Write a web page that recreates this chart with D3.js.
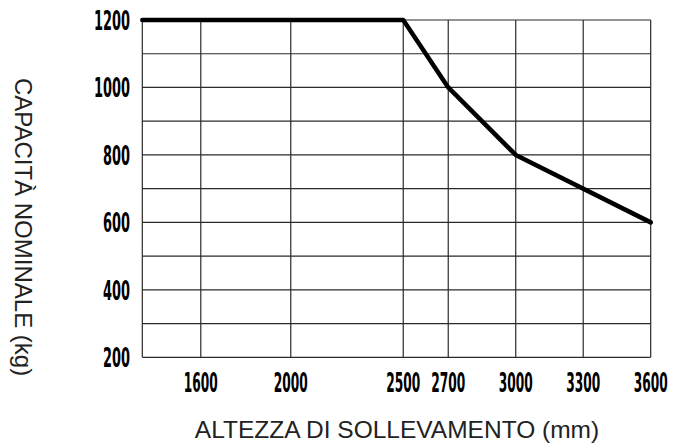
<!DOCTYPE html>
<html>
<head>
<meta charset="utf-8">
<script src="https://cdn.jsdelivr.net/npm/d3@7"></script>
<style>
  html, body { margin: 0; padding: 0; background: #fff; }
  svg { display: block; }
</style>
</head>
<body>
<svg id="chart" width="675" height="448"></svg>
<script>
// Data
const heights = [1340, 2500, 2700, 3000, 3600];        // mm
const capacities = [1200, 1200, 1000, 800, 600];       // kg
const xTicks = [1600, 2000, 2500, 2700, 3000, 3300, 3600];
const yTicks = [200, 400, 600, 800, 1000, 1200];
const yGrid = [200, 300, 400, 500, 600, 700, 800, 900, 1000, 1100, 1200];
const xDomain = [1340, 3600];
const yDomain = [200, 1200];
const xTitle = "ALTEZZA DI SOLLEVAMENTO (mm)";
const yTitle = "CAPACITÀ NOMINALE (kg)";

const svg = d3.select("#chart");
const x = d3.scaleLinear().domain(xDomain).range([142.3, 650.7]);
const y = d3.scaleLinear().domain(yDomain).range([357.3, 20]);

const gridColor = "#2a2a2a";
const tickFont = "'Liberation Sans Narrow', 'DejaVu Sans Condensed', 'Liberation Sans', sans-serif";

// Horizontal grid lines
svg.append("g").selectAll("line").data(yGrid).join("line")
  .attr("x1", x(xDomain[0])).attr("x2", x(xDomain[1]))
  .attr("y1", d => y(d)).attr("y2", d => y(d))
  .attr("stroke", gridColor).attr("stroke-width", 1.2);

// Vertical grid lines (left border + tick positions)
svg.append("g").selectAll("line").data([xDomain[0]].concat(xTicks)).join("line")
  .attr("x1", d => x(d)).attr("x2", d => x(d))
  .attr("y1", y(yDomain[0])).attr("y2", y(yDomain[1]))
  .attr("stroke", gridColor).attr("stroke-width", 1.2);

// Condense a text horizontally to a target width using a scale transform
function condense(sel, anchorX, anchorY, perChar) {
  sel.each(function(d) {
    const t = d3.select(this);
    const len = this.getComputedTextLength();
    const target = String(d).length * perChar;
    const sx = len > 0 ? target / len : 1;
    t.attr("transform", `translate(${anchorX(d)},${anchorY(d)}) scale(${sx},1)`);
  });
}

// Y tick labels
const yLab = svg.append("g").selectAll("text").data(yTicks).join("text")
  .attr("x", 0).attr("y", 0)
  .attr("dy", "0.36em")
  .attr("text-anchor", "end")
  .attr("font-family", tickFont).attr("font-weight", "bold").attr("font-size", 27)
  .attr("fill", "#000")
  .text(d => d);
condense(yLab, () => 130, d => y(d), 9);

// X tick labels
const xLab = svg.append("g").selectAll("text").data(xTicks).join("text")
  .attr("x", 0).attr("y", 0)
  .attr("text-anchor", "middle")
  .attr("font-family", tickFont).attr("font-weight", "bold").attr("font-size", 27)
  .attr("fill", "#000")
  .text(d => d);
condense(xLab, d => x(d), () => 392, 8.5);

// Data line
const pts = heights.map((h, i) => [h, capacities[i]]);
svg.append("path")
  .datum(pts)
  .attr("fill", "none")
  .attr("stroke", "#000")
  .attr("stroke-width", 4.5)
  .attr("stroke-linejoin", "round")
  .attr("stroke-linecap", "round")
  .attr("d", d3.line().x(d => x(d[0])).y(d => y(d[1])));

// Axis titles
svg.append("text")
  .attr("x", 397).attr("y", 438)
  .attr("text-anchor", "middle")
  .attr("font-family", "'Liberation Sans', Arial, sans-serif")
  .attr("font-size", 24.5)
  .attr("fill", "#222")
  .text(xTitle);

svg.append("text")
  .attr("transform", "translate(15,227) rotate(90)")
  .attr("text-anchor", "middle")
  .attr("font-family", "'Liberation Sans', Arial, sans-serif")
  .attr("font-size", 24)
  .attr("fill", "#222")
  .text(yTitle);
</script>
</body>
</html>
